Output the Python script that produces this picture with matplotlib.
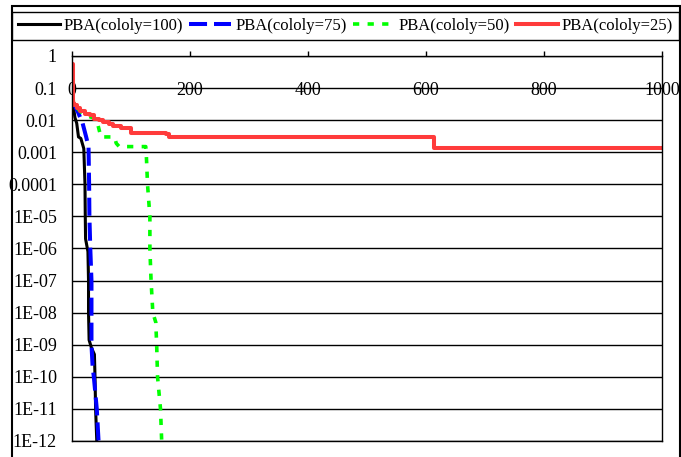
import matplotlib
matplotlib.use("Agg")
import matplotlib.pyplot as plt
from matplotlib.patches import Rectangle
from matplotlib.ticker import FixedLocator, FixedFormatter

plt.rcParams['font.family'] = ['Liberation Serif', 'DejaVu Serif']
plt.rcParams['font.size'] = 12
plt.rcParams['lines.scale_dashes'] = False

# convergence history (iteration, error) for each colony size
iter_100 = [0, 2, 5, 8, 11, 15, 20, 22, 22.5, 23, 27, 28, 28, 29, 33, 38, 39, 40, 42]
err_100 = [0.04, 0.03, 0.012, 0.008, 0.003, 0.0027, 0.0013, 1e-4, 1e-5, 2e-6,
           8e-7, 1e-7, 1e-8, 1.4e-9, 8e-10, 5e-10, 1e-10, 1e-11, 1e-12]

iter_75 = [0, 4, 10, 18, 24, 28, 29, 29.5, 31, 33, 33, 33, 35, 37, 42, 45]
err_75 = [0.04, 0.03, 0.018, 0.008, 0.003, 0.0015, 1e-4, 1e-5, 1e-6, 1e-7,
          1e-8, 1e-9, 2e-10, 1e-10, 1e-11, 1e-12]

iter_50 = [0, 3, 7, 15, 29, 41, 44, 49, 72, 75, 80, 125, 126, 128, 132, 132,
           134, 137, 142, 143.5, 145, 150, 152]
err_50 = [0.06, 0.035, 0.026, 0.018, 0.013, 0.011, 0.007, 0.003, 0.003, 0.0019,
          0.0015, 0.0015, 8e-4, 1e-4, 1e-5, 1e-6, 1e-7, 1e-8, 5e-9, 1e-9,
          1e-10, 1e-11, 1e-12]

iter_25 = [0, 1, 4, 8, 14, 22, 30, 38, 46, 52, 62, 70, 83, 100, 159, 164, 614, 1000]
err_25 = [0.56, 0.035, 0.03, 0.024, 0.02, 0.016, 0.014, 0.011, 0.01, 0.009,
          0.0075, 0.0066, 0.0056, 0.004, 0.0036, 0.003, 0.0014, 0.0014]

x_ticks = [0, 200, 400, 600, 800, 1000]
y_ticks = [1e0, 1e-1, 1e-2, 1e-3, 1e-4, 1e-5, 1e-6, 1e-7, 1e-8, 1e-9, 1e-10, 1e-11, 1e-12]
y_labels = ['1', '0.1', '0.01', '0.001', '0.0001', '1E-05', '1E-06', '1E-07',
            '1E-08', '1E-09', '1E-10', '1E-11', '1E-12']

W, H = 681, 457
fig = plt.figure(figsize=(W / 100, H / 100), dpi=100)
ax = fig.add_axes([72 / W, (H - 441) / H, (662 - 72) / W, (441 - 56) / H])

ax.plot(iter_100, err_100, color='black', lw=2.2, label='PBA(cololy=100)')
ax.plot(iter_75, err_75, color='#0000ff', lw=2.9, dashes=(13, 5),
        label='PBA(cololy=75)')
ax.plot(iter_50, err_50, color='#00ff00', lw=2.6, dashes=(4.5, 6),
        label='PBA(cololy=50)')
ax.step(iter_25, err_25, where='post', color='#ff3b3b', lw=2.9,
        label='PBA(cololy=25)')

ax.set_yscale('log')
ax.set_xlim(0, 1000)
ax.set_ylim(1e-12, 1)
ax.yaxis.set_major_locator(FixedLocator(y_ticks))
ax.yaxis.set_major_formatter(FixedFormatter(y_labels))
ax.yaxis.set_minor_locator(FixedLocator([]))
ax.set_xticks(x_ticks)

ax.grid(axis='y', color='black', lw=1)
ax.tick_params(axis='y', length=0, pad=10.8, labelsize=13)
ax.tick_params(axis='x', top=True, bottom=False, labeltop=True,
               labelbottom=False, direction='out', length=3.6, width=1,
               pad=-34.6, labelsize=13)
for s in ax.spines.values():
    s.set_color('black')
    s.set_linewidth(1)

# outer chart border
fig.patches.append(Rectangle((12 / W, -0.05), (680 - 12) / W, 0.05 + (H - 6) / H,
                             transform=fig.transFigure, fill=False,
                             edgecolor='black', lw=1.5, clip_on=False))

fig.legend(loc='lower left', ncol=4, mode='expand',
           bbox_to_anchor=(12 / W, (H - 40) / H, (679 - 12) / W, 30 / H),
           borderaxespad=0, frameon=True, fancybox=False, framealpha=1,
           edgecolor='black', handlelength=2.5, handletextpad=0.25,
           columnspacing=0.4, borderpad=0.35, fontsize=12)

fig.savefig('out.png', dpi=100)
